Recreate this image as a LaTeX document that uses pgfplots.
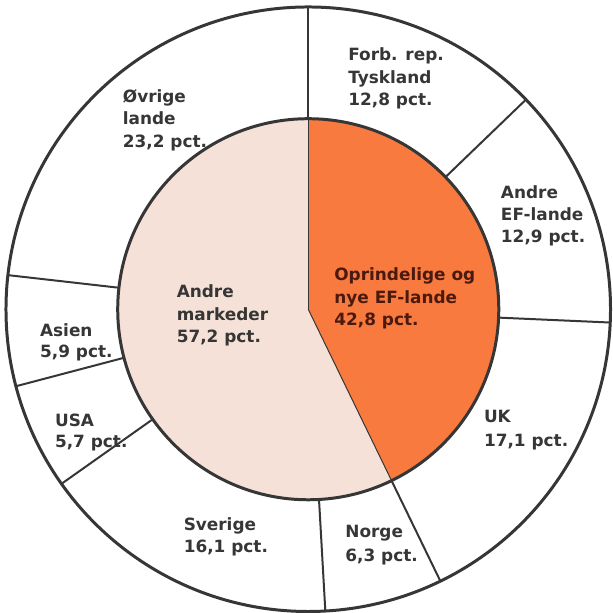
\documentclass[border=0pt]{standalone}
\usepackage{pgfplots}
\pgfplotsset{compat=1.18}
\usepackage{pgfplotstable}
\usepackage{fontspec}
\setmainfont{DejaVu Sans}
\definecolor{orng}{HTML}{F97A3F}
\definecolor{pinkfill}{HTML}{F5E1D7}
\definecolor{ink}{HTML}{363636}
\definecolor{brn}{HTML}{4A1A0E}

% outer ring (clockwise from 12 o'clock)
\pgfplotstableread{
name share
Tyskland 12.8
AndreEF 12.9
UK 17.1
Norge 6.3
Sverige 16.1
USA 5.7
Asien 5.9
Ovrige 23.2
}\outerdata
% inner pie
\pgfplotstableread{
name share
EF 42.8
Andre 57.2
}\innerdata

\pgfplotstablegetelem{0}{share}\of{\innerdata}
\pgfmathsetmacro{\efend}{90-3.6*\pgfplotsretval}

\def\cx{309}
\def\cy{303}
\def\rin{191}
\def\rout{303}

\newcommand{\lbl}[4][ink]{\node[anchor=base west, inner sep=0pt, text=#1, font=\bfseries\fontsize{17}{18}\selectfont] at (axis cs:#2,{613-(#3)-6}) {#4};}

\begin{document}
\begin{tikzpicture}
\begin{axis}[
  width=611bp, height=613bp, scale only axis,
  xmin=0, xmax=611, ymin=0, ymax=613,
  hide axis, clip=false,
]
% invisible frame points for bounding box
\addplot[draw=none, forget plot] coordinates {(0,0) (611,613)};

% inner pie
\fill[pinkfill] (axis cs:\cx,\cy) circle[radius=\rin bp];
\fill[orng] (axis cs:\cx,\cy) -- ++(90:\rin bp) arc[start angle=90, end angle=\efend, radius=\rin bp] -- cycle;
\draw[ink, line width=0.7bp] (axis cs:\cx,\cy) -- ++(90:\rin bp);
\draw[ink, line width=1bp] (axis cs:\cx,\cy) -- ++(\efend:\rin bp);

% circles
\draw[ink, line width=3bp] (axis cs:\cx,\cy) circle[radius=\rin bp];
\draw[ink, line width=3bp] (axis cs:\cx,\cy) circle[radius=\rout bp];

% outer separators
\pgfplotstablegetrowsof{\outerdata}
\pgfmathtruncatemacro{\nrows}{\pgfplotsretval-1}
\gdef\cum{0}
\foreach \i in {0,...,\nrows}{
  \pgfplotstablegetelem{\i}{share}\of{\outerdata}
  \pgfmathsetmacro{\newcum}{\cum+\pgfplotsretval}
  \xdef\cum{\newcum}
  \pgfmathsetmacro{\ang}{90-3.6*\cum}
  \pgfmathsetmacro{\xa}{\cx+\rin*cos(\ang)}
  \pgfmathsetmacro{\ya}{\cy+\rin*sin(\ang)}
  \pgfmathsetmacro{\xb}{\cx+\rout*cos(\ang)}
  \pgfmathsetmacro{\yb}{\cy+\rout*sin(\ang)}
  \edef\tmp{\noexpand\draw[ink, line width=2bp] (axis cs:\xa,\ya) -- (axis cs:\xb,\yb);}
  \tmp
}

% labels
\lbl{349}{55}{Forb. rep.}
\lbl{349}{78}{Tyskland}
\lbl{349}{100}{12,8 pct.}
\lbl{502}{193}{Andre}
\lbl{502}{215}{EF-lande}
\lbl{502}{237}{12,9 pct.}
\lbl[brn]{335}{275}{Oprindelige og}
\lbl[brn]{335}{298}{nye EF-lande}
\lbl[brn]{335}{320}{42,8 pct.}
\lbl{485}{418}{UK}
\lbl{485}{442}{17,1 pct.}
\lbl{346}{533}{Norge}
\lbl{346}{557}{6,3 pct.}
\lbl{184}{526}{Sverige}
\lbl{184}{548}{16,1 pct.}
\lbl{55}{422}{USA}
\lbl{55}{443}{5,7 pct.}
\lbl{40}{331}{Asien}
\lbl{40}{352}{5,9 pct.}
\lbl{123}{97}{Øvrige}
\lbl{123}{119}{lande}
\lbl{123}{142}{23,2 pct.}
\lbl{177}{292}{Andre}
\lbl{177}{315}{markeder}
\lbl{177}{337}{57,2 pct.}
\end{axis}
\end{tikzpicture}
\end{document}
